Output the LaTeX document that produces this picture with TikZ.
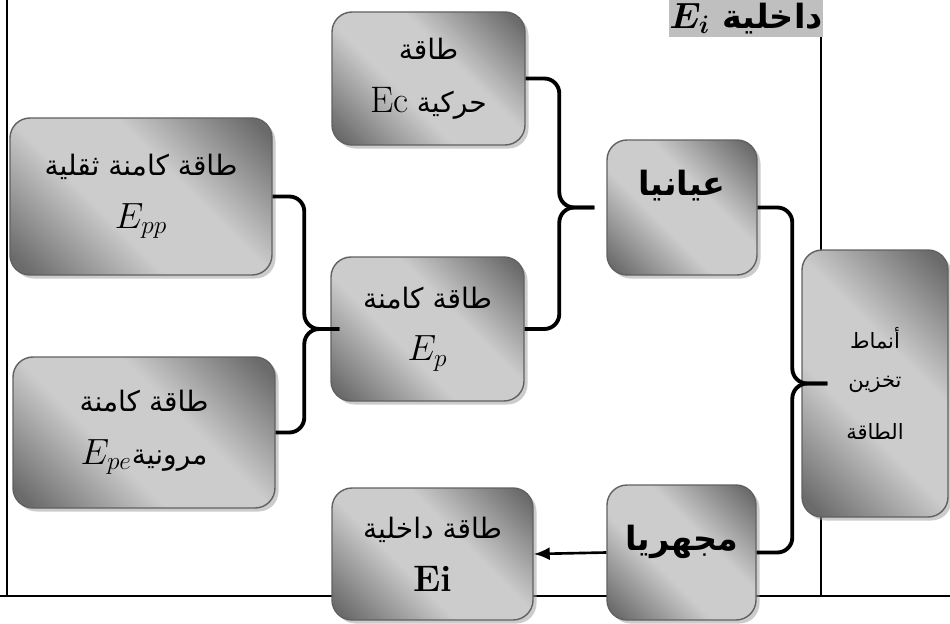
\documentclass[tikz,border=0pt]{standalone}
\usepackage{fontspec}
\usepackage{amsmath}
\usepackage{amssymb}
\usetikzlibrary{calc}
\usetikzlibrary{shadows}
\usetikzlibrary{arrows.meta}
\newfontfamily\arabicfont[Script=Arabic]{DejaVu Sans}
\TeXXeTstate=1
\newcommand{\artxt}[1] % one run of arabic text, right to left
{%
	{\arabicfont\beginR #1\endR}%
}
\newcommand{\lat}[1] % latin letters and formulas, a bit larger
{%
	{\fontsize{21}{24}\selectfont #1}%
}
% dark corners, light middle
\pgfdeclareverticalshading{boxshade}{100bp}{color(0bp)=(black!60); color(18bp)=(black!58);
	color(41bp)=(black!20); color(59bp)=(black!20); color(82bp)=(black!58); color(100bp)=(black!60)}

\tikzset{
	block/.style={draw=black!62, line width=0.8pt, rounded corners=0.4cm,
		shading=boxshade, shading angle=-45,
		drop shadow={shadow xshift=0.07cm, shadow yshift=-0.07cm, fill=black!40},
		align=center, inner sep=0pt, font=\fontsize{16}{30}\selectfont},
	brace/.style={line width=2.2pt, rounded corners=0.3cm},
}

\begin{document}
\begin{tikzpicture}
	% page: 19cm x 12.46cm
	\useasboundingbox (0,0) rectangle (19,12.46);
	% table lines
	\draw[line width=1.2pt] (0.14,12.46) -- (0.14,0.54);
	\draw[line width=1.2pt] (16.42,12.46) -- (16.42,0.54);
	\draw[line width=1.6pt] (0,0.54) -- (19,0.54);
	% title in the corner
	\node[fill=black!25, minimum width=2.44cm, minimum height=0.74cm, inner sep=0pt,
		font=\fontsize{19}{20}\selectfont\bfseries] (title) at (14.92,12.09)
		{\lat{$\boldsymbol{E_i}$} \artxt{داخلية}};
	% left column
	\node[block, minimum width=5.24cm, minimum height=3.14cm] (epp) at (2.82,8.53)
		{\artxt{طاقة كامنة ثقلية}\\ \lat{$E_{pp}$}};
	\node[block, minimum width=5.24cm, minimum height=3.02cm] (epe) at (2.88,3.81)
		{\artxt{طاقة كامنة}\\ \lat{$E_{pe}$}\artxt{مرونية}};
	% middle column
	\node[block, minimum width=3.86cm, minimum height=2.66cm] (kin) at (8.57,10.89)
		{\artxt{طاقة}\\ \lat{Ec} \artxt{حركية}};
	\node[block, minimum width=3.86cm, minimum height=2.88cm] (pot) at (8.55,5.88)
		{\artxt{طاقة كامنة}\\ \lat{$E_p$}};
	\node[block, minimum width=4.02cm, minimum height=2.64cm] (ei) at (8.65,1.38)
		{\artxt{طاقة داخلية}\\ \lat{\textbf{Ei}}};
	% right column
	\node[block, minimum width=3.0cm, minimum height=2.7cm, font=\fontsize{19}{22}\selectfont\bfseries] (vis) at (13.64,8.31)
		{\raisebox{0.24cm}[0pt][0pt]{\artxt{عيانيا}}};
	\node[block, minimum width=2.98cm, minimum height=2.7cm, font=\fontsize{19}{22}\selectfont\bfseries] (mic) at (13.63,1.41)
		{\raisebox{0.04cm}[0pt][0pt]{\artxt{مجهريا}}};
	\node[block, minimum width=2.92cm, minimum height=5.34cm, font=\fontsize{12}{22}\selectfont] (store) at (17.5,4.79)
		{\artxt{أنماط}\\ \artxt{تخزين}\\[8pt] \artxt{الطاقة}};
	% braces
	\draw[brace] (epp.east) -| ($(pot.west)+(-0.52,0)$) -- ($(pot.west)+(0.18,0)$);
	\draw[brace] (epe.east) -| ($(pot.west)+(-0.52,0)$) -- ($(pot.west)+(0.18,0)$);
	\draw[brace] (kin.east) -| ($(vis.west)+(-0.94,0)$) -- ($(vis.west)+(-0.24,0)$);
	\draw[brace] (pot.east) -| ($(vis.west)+(-0.94,0)$) -- ($(vis.west)+(-0.24,0)$);
	\draw[brace] (vis.east) -| ($(store.west)+(-0.18,0)$) -- ($(store.west)+(0.52,0)$);
	\draw[brace] (mic.east) -| ($(store.west)+(-0.18,0)$) -- ($(store.west)+(0.52,0)$);
	% arrow
	\draw[line width=1.5pt, -{Latex[length=0.32cm, width=0.26cm]}] (mic.west) -- (ei.east);
\end{tikzpicture}
\end{document}
